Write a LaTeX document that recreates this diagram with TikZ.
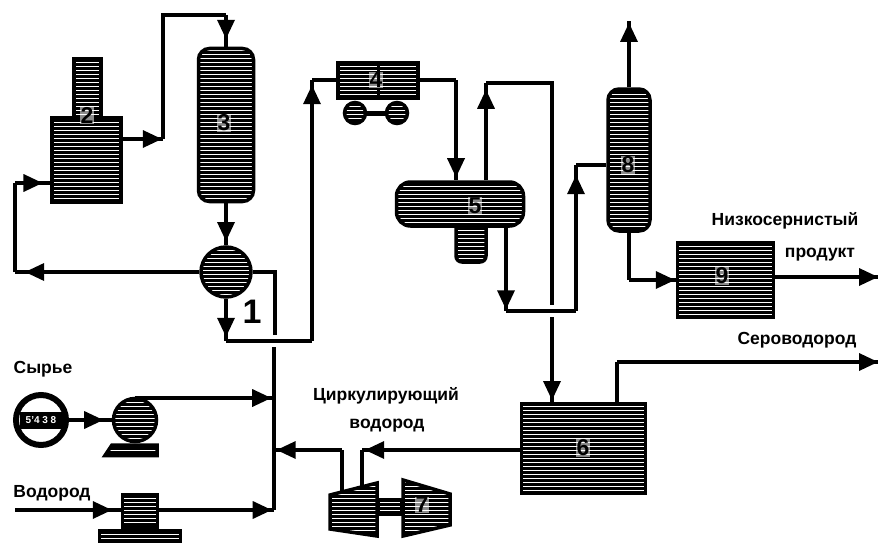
\documentclass[tikz,border=0pt]{standalone}
\usepackage{fontspec}
\setmainfont{Liberation Sans}
\usepackage{tikz}
\usetikzlibrary{positioning, patterns, arrows.meta, decorations.markings}

\pgfdeclarepatternformonly{scanlines}{\pgfqpoint{0pt}{-1pt}}{\pgfqpoint{4pt}{3pt}}{\pgfqpoint{4pt}{4pt}}{
  \pgfsetlinewidth{0.8pt}
  \pgfpathmoveto{\pgfqpoint{0pt}{1pt}}
  \pgfpathlineto{\pgfqpoint{4pt}{1pt}}
  \pgfusepath{stroke}}

\begin{document}
\begin{tikzpicture}[x=1pt, y=-1pt,
  unit/.style={draw, line width=3.5pt, preaction={fill=black}, pattern=scanlines, pattern color=white, inner sep=0pt},
  vessel/.style={unit, rounded corners=11pt},
  num/.style={font=\bfseries\fontsize{23}{23}\selectfont, fill=white, fill opacity=0.55, text opacity=1, inner sep=0.5pt},
  lbl/.style={font=\bfseries\fontsize{17.5}{17.5}\selectfont, inner sep=0pt},
  pipe/.style={line width=3.6pt, line join=miter},
  tipat/.style={postaction={decorate, decoration={markings, mark=at position #1 with {\arrow[line width=0pt]{Triangle[length=19pt, width=18pt]}}}}}]

  \useasboundingbox (0,0) rectangle (878,543);

  % reactor block
  \node[unit, minimum width=27pt, minimum height=58pt] (stack2) at (87.5,88) {};
  \node[unit, minimum width=69pt, minimum height=85pt] (heater2) at (86.5,160) {};
  \node[num] (n2) at (87,115) {2};
  \node[vessel, minimum width=55pt, minimum height=153pt] (reactor3) at (226,125) {};
  \node[num] (n3) at (224,123) {3};
  \node[unit, circle, minimum size=50pt] (exch1) at (226,272) {};
  \node[font=\bfseries\fontsize{34}{34}\selectfont] (n1) at (252,312) {1};

  % air cooler
  \node[unit, minimum width=80pt, minimum height=35pt] (cooler4) at (378,80.5) {};
  \draw[line width=3pt] (cooler4.north) -- (cooler4.south);
  \node[num] (n4) at (376,80) {4};
  \draw[line width=5pt] (355,113) -- (397,113);
  \node[unit, circle, minimum size=21pt] (fan4a) at (355,113) {};
  \node[unit, circle, minimum size=21pt] (fan4b) at (397,113) {};

  % separators
  \node[unit, minimum width=30pt, minimum height=40pt, rounded corners=6pt] (sump5) at (471,242) {};
  \node[vessel, rounded corners=14pt, minimum width=127pt, minimum height=44pt] (sep5) at (460,204) {};
  \node[num] (n5) at (475,206) {5};
  \node[vessel, minimum width=42pt, minimum height=142pt] (col8) at (629,160) {};
  \node[num] (n8) at (628,165) {8};
  \node[unit, minimum width=96pt, minimum height=74pt] (strip9) at (725.5,280) {};
  \node[num] (n9) at (722,276) {9};
  \node[unit, minimum width=124pt, minimum height=90pt] (tank6) at (583.5,448.5) {};
  \node[num] (n6) at (583,448) {6};

  % feed side
  \node[draw, circle, line width=6pt, fill=white, minimum size=50pt, inner sep=0pt] (meter) at (41,420) {};
  \node[fill=black, text=white, minimum width=43pt, minimum height=17pt, inner sep=0pt, font=\bfseries\fontsize{10}{10}\selectfont] (meterval) at (41,420) {5'4 3 8};
  \path[unit] (112,445) -- (157,445) -- (157,455.5) -- (105,455.5) -- cycle;
  \node[unit, circle, minimum size=43pt] (pump) at (135,420) {};
  \node[unit, minimum width=35pt, minimum height=33pt] (gas) at (140,511) {};
  \node[unit, minimum width=81pt, minimum height=10pt, below=0pt of gas] (gasbase) {};

  % compressor
  \node[unit, minimum width=24pt, minimum height=14pt] (shaft) at (390,507) {};
  \path[unit] (330,495) -- (377,483) -- (377,536) -- (330,529) -- cycle;
  \path[unit] (403,480) -- (450,494) -- (450,525) -- (403,536) -- cycle;
  \coordinate (compL) at (342,492);
  \coordinate (compR) at (362,486);
  \node[num] (n7) at (422,505) {7};

  % labels
  \node[lbl] (feedtxt) at (43,369) {Сырье};
  \node[lbl] (h2txt) at (52,493) {Водород};
  \node[lbl] (circ1) at (386,396) {Циркулирующий};
  \node[lbl] (circ2) at (387,426) {водород};
  \node[lbl] (prod1) at (785,221) {Низкосернистый};
  \node[lbl] (prod2) at (820,255) {продукт};
  \node[lbl] (h2s) at (797,340) {Сероводород};

  % free ends and corners
  \coordinate (j2a) at (15,272);
  \coordinate (j2b) at (15,183);
  \coordinate (j3a) at (163,139);
  \coordinate (j3b) at (163,15);
  \coordinate (j3c) at (226,15);
  \coordinate (fromx) at (226,341);
  \coordinate (j4a) at (312,341);
  \coordinate (j4b) at (312,80);
  \coordinate (mainup) at (274,347);
  \coordinate (exlow) at (275,335);
  \coordinate (exR) at (275,272);
  \coordinate (mainlow) at (274,510);
  \coordinate (feedin) at (274,398);
  \coordinate (recin) at (274,450);
  \coordinate (h2in) at (15,510);
  \coordinate (j5a) at (456,80);
  \coordinate (j5b) at (486,83);
  \coordinate (j5c) at (552,83);
  \coordinate (j5d) at (552,305);
  \coordinate (j6a) at (552,317);
  \coordinate (j7a) at (506,311);
  \coordinate (j7b) at (576,311);
  \coordinate (j7c) at (576,165);
  \coordinate (ovhd) at (629,21);
  \coordinate (j9a) at (629,280);
  \coordinate (prodout) at (878,277);
  \coordinate (j10a) at (617,362);
  \coordinate (h2sout) at (878,362);
  \coordinate (j11a) at (342,450);
  \coordinate (j11b) at (362,450);

  % pipes
  \draw[pipe, tipat=0.945] (exch1.west |- j2a) -- (j2a);
  \draw[pipe] (j2a) -- (j2b);
  \draw[pipe, tipat=0.78] (j2b) -- (j2b -| heater2.west);
  \draw[pipe, tipat=0.97] (heater2.east |- j3a) -- (j3a);
  \draw[pipe] (j3a) -- (j3b) -- (j3c);
  \draw[pipe, tipat=0.75] (j3c) -- (j3c |- reactor3.north);
  \draw[pipe, tipat=0.9] (reactor3.south) -- (exch1.north);
  \draw[pipe, tipat=0.9] (exch1.south) -- (fromx);
  \draw[pipe] (fromx) -- (j4a);
  \draw[pipe, tipat=0.98] (j4a) -- (j4b);
  \draw[pipe] (j4b) -- (j4b -| cooler4.west);
  \draw[pipe] (mainlow) -- (mainup);
  \draw[pipe] (exlow) -- (exR) -- (exR -| exch1.east);
  \draw[pipe] (cooler4.east |- j5a) -- (j5a);
  \draw[pipe, tipat=0.97] (j5a) -- (j5a |- sep5.north);
  \draw[pipe, tipat=0.93] (j5b |- sep5.north) -- (j5b);
  \draw[pipe] (j5b) -- (j5c) -- (j5d);
  \draw[pipe, tipat=0.98] (j7a |- sep5.south) -- (j7a);
  \draw[pipe] (j7a) -- (j7b);
  \draw[pipe, tipat=0.93] (j7b) -- (j7c);
  \draw[pipe] (j7c) -- (j7c -| col8.west);
  \draw[pipe, tipat=0.98] (j6a) -- (j6a |- tank6.north);
  \draw[pipe, tipat=0.97] (col8.north) -- (ovhd);
  \draw[pipe] (col8.south) -- (j9a);
  \draw[pipe, tipat=0.98] (j9a) -- (j9a -| strip9.west);
  \draw[pipe, tipat=1] (strip9.east |- prodout) -- (prodout);
  \draw[pipe] (tank6.north -| j10a) -- (j10a);
  \draw[pipe, tipat=1] (j10a) -- (h2sout);
  \draw[pipe, tipat=0.98] (tank6.west |- j11b) -- (j11b);
  \draw[pipe] (j11b) -- (compR);
  \draw[pipe] (compL) -- (j11a);
  \draw[pipe, tipat=0.96] (j11a) -- (recin);
  \draw[pipe, tipat=0.8] (meter.east) -- (pump.west);
  \draw[pipe, tipat=0.98] (feedin -| pump) -- (feedin);
  \draw[pipe, tipat=0.915] (h2in) -- (gas.west |- h2in);
  \draw[pipe, tipat=0.98] (gas.east |- mainlow) -- (mainlow);
\end{tikzpicture}
\end{document}
